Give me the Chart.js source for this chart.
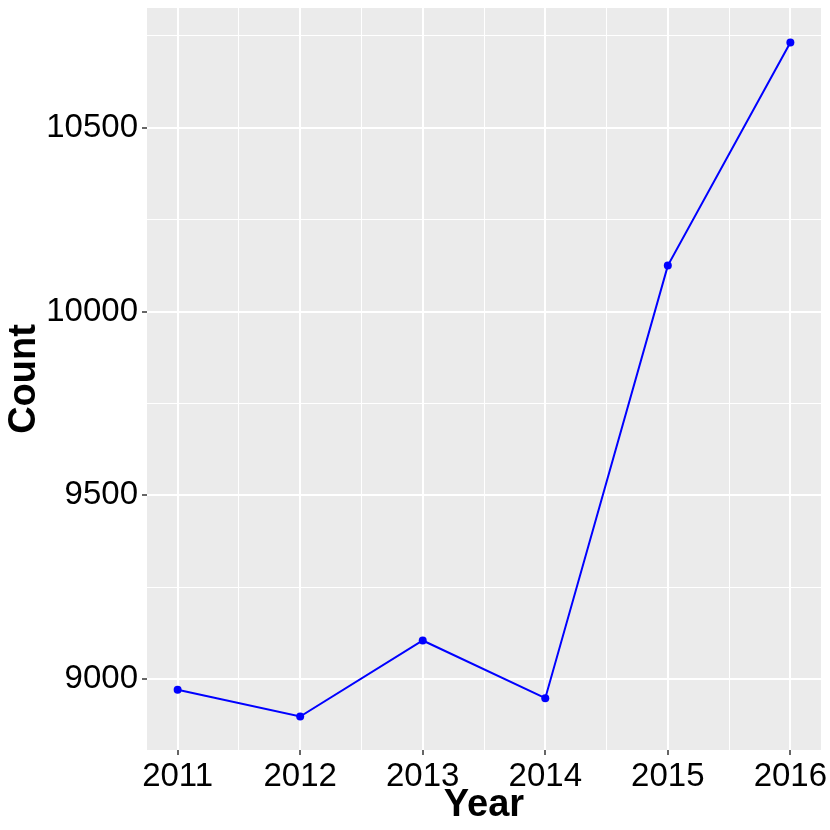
<!DOCTYPE html>
<html>
<head>
<meta charset="utf-8">
<script src="https://cdn.jsdelivr.net/npm/chart.js@4"></script>
<style>
  body { margin: 0; background: #fff; }
  #wrap { width: 830px; height: 830px; }
</style>
</head>
<body>
<div id="wrap"><canvas id="lineChart" width="830" height="830"></canvas></div>
<script>
// Values
const years = [2011, 2012, 2013, 2014, 2015, 2016];
const counts = [8971, 8898, 9105, 8948, 10125, 10732];
const xTicks = [2011, 2011.5, 2012, 2012.5, 2013, 2013.5, 2014, 2014.5, 2015, 2015.5, 2016];
const yTicks = [9000, 9250, 9500, 9750, 10000, 10250, 10500, 10750];

const FONT = "'Liberation Sans', Arial, Helvetica, sans-serif";

// grey panel like ggplot's theme_grey
const panelBg = {
    id: 'panelBg',
    beforeDraw(chart) {
        const { ctx, chartArea: a } = chart;
        ctx.save();
        ctx.fillStyle = '#EBEBEB';
        ctx.fillRect(a.left, a.top, a.right - a.left, a.bottom - a.top);
        ctx.restore();
    }
};

const isMajorX = v => Number.isInteger(v);
const isMajorY = v => v % 500 === 0;

function axisGrid(isMajor) {
    return {
        color: '#FFFFFF',
        lineWidth: c => isMajor(c.tick.value) ? 2 : 1,
        drawTicks: true,
        tickLength: 5,
        tickColor: c => isMajor(c.tick.value) ? '#333333' : 'rgba(0,0,0,0)',
        tickWidth: 1.5
    };
}

const ctx = document.getElementById('lineChart').getContext('2d');
const chart = new Chart(ctx, {
    type: 'line',
    data: {
        datasets: [{
            label: 'Count',
            data: years.map((y, i) => ({ x: y, y: counts[i] })),
            borderColor: '#0000FF',
            backgroundColor: '#0000FF',
            borderWidth: 2,
            pointRadius: 4,
            pointHoverRadius: 4,
            pointBorderWidth: 0,
            tension: 0,
            fill: false
        }]
    },
    options: {
        responsive: false,
        animation: false,
        layout: { padding: { top: 8, right: 9, left: 0, bottom: 0 } },
        plugins: {
            legend: { display: false },
            tooltip: { enabled: false }
        },
        scales: {
            x: {
                type: 'linear',
                min: 2010.75,
                max: 2016.25,
                border: { display: false },
                grid: axisGrid(isMajorX),
                afterBuildTicks: scale => { scale.ticks = xTicks.map(v => ({ value: v })); },
                afterFit: scale => {
                    scale.height = 80;
                    scale.paddingLeft = 0;
                    scale.paddingRight = 0;
                },
                ticks: {
                    autoSkip: false,
                    maxRotation: 0,
                    padding: 2,
                    color: '#000000',
                    font: { family: FONT, size: 33 },
                    callback: v => isMajorX(v) ? String(v) : ''
                },
                title: {
                    display: true,
                    text: 'Year',
                    color: '#000000',
                    font: { family: FONT, size: 38, weight: 'bold' },
                    padding: { top: 0, bottom: 2 }
                }
            },
            y: {
                type: 'linear',
                min: 8807,
                max: 10826,
                border: { display: false },
                grid: axisGrid(isMajorY),
                afterBuildTicks: scale => { scale.ticks = yTicks.map(v => ({ value: v })); },
                afterFit: scale => {
                    scale.width = 147;
                    scale.paddingTop = 0;
                    scale.paddingBottom = 0;
                },
                ticks: {
                    autoSkip: false,
                    padding: 4,
                    color: '#000000',
                    font: { family: FONT, size: 33 },
                    callback: v => isMajorY(v) ? String(v) : ''
                },
                title: {
                    display: true,
                    text: 'Count',
                    color: '#000000',
                    font: { family: FONT, size: 38, weight: 'bold' },
                    padding: { top: 2, bottom: 0 }
                }
            }
        }
    },
    plugins: [panelBg]
});
</script>
</body>
</html>
